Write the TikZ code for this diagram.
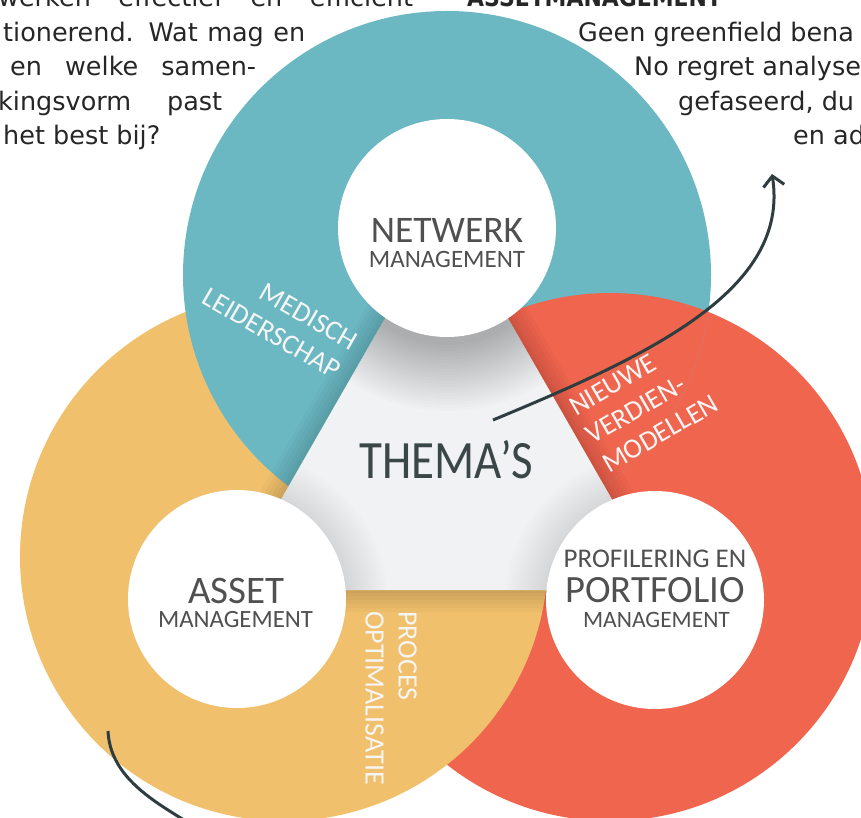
\documentclass[tikz,border=0pt]{standalone}
\usepackage{fontspec}
\usepackage{graphicx}
\usetikzlibrary{arrows.meta}
\setmainfont{DejaVu Sans}
\newfontfamily\labelfont{Carlito}
\definecolor{ringteal}{HTML}{6BB8C3}
\definecolor{ringorange}{HTML}{F0C06C}
\definecolor{ringred}{HTML}{F0654D}
\definecolor{coregray}{HTML}{F1F2F4}
\definecolor{inktext}{HTML}{262626}
\definecolor{capgray}{HTML}{505050}
\definecolor{themeink}{HTML}{3B4647}
\definecolor{arrowink}{HTML}{2E3D3F}

\begin{document}
\begin{tikzpicture}[x=1pt,y=-1pt,
  bodytext/.style={font=\fontsize{25.5}{25.5}\selectfont, text=inktext, inner sep=0pt, anchor=base west},
  ringlabel/.style={font=\labelfont\fontsize{28}{33}\selectfont, text=white!96!black, inner sep=0pt},
  hub/.style={circle, fill=white, minimum size=218pt, inner sep=0pt},
  hubtitle/.style={font=\labelfont\fontsize{#1}{#1}\selectfont, text=capgray, inner sep=0pt, anchor=base},
  flow/.style={draw=arrowink, line width=3pt},
  edgeshade/.style={draw=black, opacity=0.022, line width=#1},
]
\useasboundingbox (0,0) rectangle (861,818);
\clip (0,0) rectangle (861,818);

% the three coloured discs
\coordinate (tealC) at (447,275);
\coordinate (orangeC) at (284,557);
\coordinate (redC) at (610,557);
\fill[ringred] (redC) circle[radius=264pt];
\fill[ringorange] (orangeC) circle[radius=264pt];
\fill[ringteal] (tealC) circle[radius=264pt];
% red lies on top of teal
\begin{scope}
  \clip (tealC) circle[radius=264pt];
  \fill[ringred] (redC) circle[radius=264pt];
\end{scope}

% central triangle with a soft edge shadow
\coordinate (triTop) at (446.5,211);
\coordinate (triLeft) at (229,590);
\coordinate (triRight) at (664,590);
\foreach \w in {44,36,28,20,12,6}
  \draw[edgeshade=\w pt] (triTop) -- (triLeft) -- (triRight) -- cycle;
\fill[coregray] (triTop) -- (triLeft) -- (triRight) -- cycle;
\begin{scope}
  \clip (triTop) -- (triLeft) -- (triRight) -- cycle;
  \foreach \k in {3,6,...,69}
    \fill[black, opacity=0.011] (447,233) circle[radius=109pt+\k pt];
  \foreach \cx/\cy in {237/603, 655/604}
    \foreach \k in {3,6,...,42}
      \fill[black, opacity=0.007] (\cx,\cy) circle[radius=109pt+\k pt];
\end{scope}

% white hubs
\node[hub] (netC) at (447,228) {};
\node[hub] (assetC) at (237,599) {};
\node[hub] (portC) at (655,600) {};

\node[hubtitle=37.5] (netT1) at (447,243) {NETWERK};
\node[hubtitle=25] (netT2) at (447,267) {MANAGEMENT};
\node[hubtitle=39] (assT1) at (236.5,603) {ASSET};
\node[hubtitle=24.8] (assT2) at (235.5,627) {MANAGEMENT};
\node[hubtitle=27] (porT1) at (655,567) {PROFILERING EN};
\node[hubtitle=38.6] (porT2) at (655,602) {PORTFOLIO};
\node[hubtitle=23.5] (porT3) at (656.5,627) {MANAGEMENT};

\node[font=\labelfont\fontsize{54}{54}\selectfont, text=themeink, inner sep=0pt, anchor=base] (thema) at (446.5,478) {\scalebox{0.87}[1]{THEMA’S}};

% labels on the rings
\node[ringlabel, align=right, rotate=-30] (medT) at (280,319) {MEDISCH\\LEIDERSCHAP};
\node[ringlabel, align=left, rotate=30] (verdT) at (644,405) {NIEUWE\\VERDIEN-\\MODELLEN};
\node[ringlabel, align=left, rotate=-90] (procT) at (391,698) {PROCES\\OPTIMALISATIE};

% curved arrows
\coordinate (flowA) at (493,420);
\coordinate (flowAend) at (772,174);
\draw[flow, -{Straight Barb[length=10pt,width=21pt]}] (flowA) .. controls (650,355) and (790,290) .. (flowAend);
\coordinate (flowB) at (108,731);
\coordinate (flowBend) at (184,820);
\draw[flow] (flowB) .. controls (110,775) and (150,799) .. (flowBend);

% surrounding body text
\node[bodytext] (tl1) at (-2,7) {\makebox[415pt][s]{werken effectief en efficient}};
\node[bodytext] (tl2) at (3,41.5) {\makebox[302pt][s]{tionerend. Wat mag en}};
\node[bodytext] (tl3) at (10,76) {\makebox[246pt][s]{en welke samen-}};
\node[bodytext] (tl4) at (-2,110.5) {\makebox[224pt][s]{kingsvorm past}};
\node[bodytext] (tl5) at (3,145) {het best bij?};

\node[bodytext, font=\bfseries\fontsize{25.5}{25.5}\selectfont] (head) at (467,7) {\scalebox{0.86}[1]{ASSETMANAGEMENT}};
\node[bodytext] (tr1) at (578,41.5) {Geen greenfield bena};
\node[bodytext] (tr2) at (634,76) {No regret analyse};
\node[bodytext] (tr3) at (678,110.5) {gefaseerd, du};
\node[bodytext] (tr4) at (793,145) {en ad};
\end{tikzpicture}
\end{document}
